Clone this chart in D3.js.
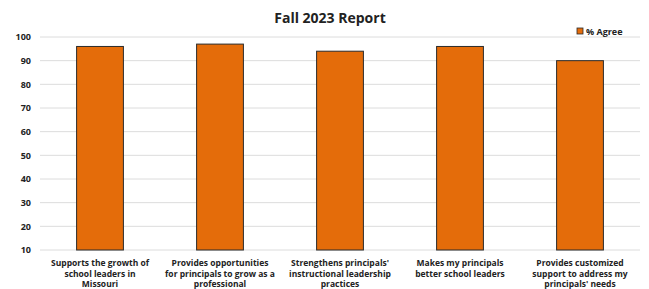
<!DOCTYPE html>
<html>
<head>
<meta charset="utf-8">
<script src="https://cdn.jsdelivr.net/npm/d3@7"></script>
<style>
  body { margin: 0; background: #fff; }
  svg text { font-family: "Open Sans", "Liberation Sans", sans-serif; }
  .axis path, .axis line { display: none; }
</style>
</head>
<body>
<svg id="chart"></svg>
<script>
const categories = [
  ["Supports the growth of", "school leaders in", "Missouri"],
  ["Provides opportunities", "for principals to grow as a", "professional"],
  ["Strengthens principals'", "instructional leadership", "practices"],
  ["Makes my principals", "better school leaders"],
  ["Provides customized", "support to address my", "principals' needs"]
];
const agreeValues = [96, 97, 94, 96, 90];
const yTicks = [10, 20, 30, 40, 50, 60, 70, 80, 90, 100];
const seriesName = "% Agree";
const chartTitle = "Fall 2023 Report";

const width = 649, height = 289;
const margin = { top: 37, right: 9, bottom: 39, left: 40 };
const innerW = width - margin.left - margin.right;
const innerH = height - margin.top - margin.bottom;

const svg = d3.select("#chart").attr("width", width).attr("height", height);
const chart = svg.append("g").attr("transform", `translate(${margin.left},${margin.top})`);

const xScale = d3.scaleBand()
  .domain(d3.range(categories.length))
  .range([0, innerW])
  .paddingInner(0.61)
  .paddingOuter(0.305);

const yScale = d3.scaleLinear().domain([10, 100]).range([innerH, 0]);

// gridlines
chart.selectAll(".grid")
  .data(yTicks)
  .join("line")
  .attr("class", "grid")
  .attr("x1", 0).attr("x2", innerW)
  .attr("y1", d => yScale(d)).attr("y2", d => yScale(d))
  .attr("stroke", "#dcdcdc").attr("stroke-width", 1);

// y axis
const yAxisGroup = chart.append("g").attr("class", "axis")
  .call(d3.axisLeft(yScale).tickValues(yTicks).tickSize(0).tickPadding(9));
yAxisGroup.selectAll("text")
  .style("font-size", "9px").style("font-weight", "bold").attr("fill", "#222");

// bars
chart.selectAll(".bar")
  .data(agreeValues)
  .join("rect")
  .attr("class", "bar")
  .attr("x", (d, i) => xScale(i))
  .attr("y", d => yScale(d))
  .attr("width", xScale.bandwidth())
  .attr("height", d => innerH - yScale(d))
  .attr("fill", "#E46C0A")
  .attr("stroke", "#2b2b2b")
  .attr("stroke-width", 1);

// x labels
const xLabels = chart.selectAll(".xlabel")
  .data(categories)
  .join("text")
  .attr("class", "xlabel")
  .attr("text-anchor", "middle")
  .attr("y", innerH + 16)
  .style("font-size", "8.5px").style("font-weight", "bold").attr("fill", "#222");
xLabels.selectAll("tspan")
  .data((d, i) => d.map(t => ({ t, i })))
  .join("tspan")
  .attr("x", d => xScale(d.i) + xScale.bandwidth() / 2)
  .attr("dy", (d, j) => j === 0 ? 0 : 10.5)
  .text(d => d.t);

// title
svg.append("text")
  .attr("x", 330).attr("y", 23)
  .attr("text-anchor", "middle")
  .style("font-size", "14px").style("font-weight", "bold")
  .attr("fill", "#222")
  .text(chartTitle);

// legend
const legend = svg.append("g").attr("transform", "translate(577,28)");
legend.append("rect")
  .attr("width", 6).attr("height", 6)
  .attr("fill", "#E46C0A").attr("stroke", "#2b2b2b").attr("stroke-width", 0.8);
legend.append("text")
  .attr("x", 9).attr("y", 6.5)
  .style("font-size", "9px").style("font-weight", "bold").attr("fill", "#222")
  .text(seriesName);
</script>
</body>
</html>
